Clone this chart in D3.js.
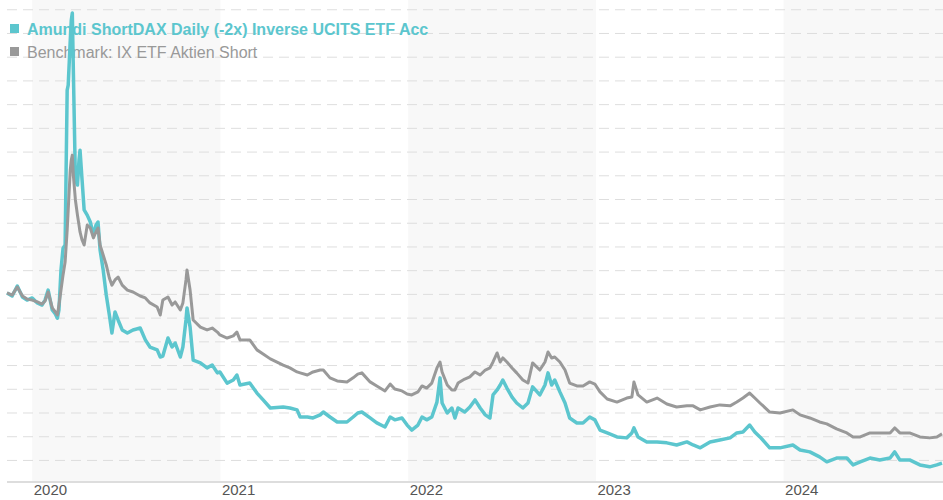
<!DOCTYPE html>
<html>
<head>
<meta charset="utf-8">
<script src="https://cdn.jsdelivr.net/npm/d3@7"></script>
<style>
  body { margin: 0; background: #fff; }
  svg { display: block; font-family: "Liberation Sans", Arial, sans-serif; }
</style>
</head>
<body>
<svg id="chart"></svg>
<script>
// dates of the sampled points
var dates = [
  "2019-11-13","2019-11-23","2019-12-03","2019-12-13","2019-12-22","2020-01-01","2020-01-11","2020-01-20","2020-01-26","2020-02-01",
  "2020-02-09","2020-02-15","2020-02-19","2020-02-22","2020-02-26","2020-03-01","2020-03-05","2020-03-09","2020-03-11","2020-03-15",
  "2020-03-17","2020-03-19","2020-03-21","2020-03-25","2020-03-29","2020-04-01","2020-04-03","2020-04-07","2020-04-11","2020-04-17",
  "2020-04-23","2020-04-29","2020-05-04","2020-05-08","2020-05-12","2020-05-18","2020-05-24","2020-05-30","2020-06-04","2020-06-10",
  "2020-06-16","2020-06-24","2020-07-04","2020-07-15","2020-07-29","2020-08-08","2020-08-17","2020-08-31","2020-09-06","2020-09-11",
  "2020-09-21","2020-09-29","2020-10-05","2020-10-15","2020-10-20","2020-10-26","2020-10-28","2020-11-03","2020-11-09","2020-11-23",
  "2020-12-06","2020-12-16","2020-12-26","2020-12-31","2021-01-14","2021-01-26","2021-02-02","2021-02-08","2021-02-27","2021-03-13",
  "2021-03-25","2021-04-08","2021-05-03","2021-05-16","2021-05-30","2021-06-05","2021-06-19","2021-06-30","2021-07-14","2021-07-20",
  "2021-08-02","2021-08-16","2021-09-04","2021-09-16","2021-09-25","2021-10-03","2021-10-19","2021-11-01","2021-11-17","2021-11-27",
  "2021-12-06","2021-12-20","2021-12-30","2022-01-08","2022-01-20","2022-01-28","2022-02-06","2022-02-16","2022-02-26","2022-03-04",
  "2022-03-08","2022-03-18","2022-03-27","2022-04-02","2022-04-08","2022-04-21","2022-05-01","2022-05-11","2022-05-21","2022-05-31",
  "2022-06-09","2022-06-15","2022-06-23","2022-06-29","2022-07-04","2022-07-12","2022-07-22","2022-07-31","2022-08-12","2022-08-22",
  "2022-08-31","2022-09-14","2022-09-24","2022-09-30","2022-10-07","2022-10-13","2022-10-23","2022-11-02","2022-11-11","2022-11-25",
  "2022-12-07","2022-12-20","2022-12-30","2023-01-09","2023-01-23","2023-02-11","2023-03-02","2023-03-12","2023-03-16","2023-03-24",
  "2023-04-10","2023-04-30","2023-05-19","2023-06-07","2023-06-27","2023-07-09","2023-07-23","2023-08-11","2023-08-30","2023-09-19",
  "2023-10-02","2023-10-14","2023-10-27","2023-11-06","2023-11-16","2023-12-05","2023-12-25","2024-01-19","2024-02-02","2024-02-21",
  "2024-03-11","2024-03-25","2024-04-13","2024-05-03","2024-05-15","2024-05-29","2024-06-17","2024-07-06","2024-07-26","2024-08-04",
  "2024-08-14","2024-09-02","2024-09-22","2024-10-11","2024-10-25","2024-11-04"
];

// Amundi ShortDAX Daily (-2x) Inverse UCITS ETF Acc (indexed)
var fundValues = [
  100.4, 99.1, 103.3, 98.7, 97.4, 98.3, 96.2, 95.3, 97.4, 101.6,
  93.2, 91.5, 89.8, 93.2, 110.1, 119.3, 120.6, 185.9, 188.0, 207.0,
  215.4, 218.4, 194.3, 148.0, 145.9, 156.4, 160.6, 148.0, 135.4, 133.2,
  130.3, 124.8, 129.0, 130.3, 118.5, 110.1, 99.5, 91.1, 83.5, 92.4,
  89.0, 84.8, 83.5, 84.8, 85.6, 80.6, 77.6, 76.4, 73.4, 73.8,
  81.4, 77.6, 79.3, 73.4, 77.6, 89.0, 94.1, 86.0, 72.1, 70.9,
  68.8, 70.0, 66.7, 67.1, 62.4, 63.7, 65.8, 61.6, 62.4, 58.2,
  55.3, 51.9, 52.3, 51.9, 51.1, 48.1, 48.1, 47.7, 49.0, 50.2,
  48.1, 46.0, 46.0, 48.1, 49.8, 50.2, 47.7, 45.6, 43.9, 48.1,
  46.9, 47.7, 44.7, 42.6, 44.7, 48.1, 46.9, 48.1, 54.4, 64.6,
  54.0, 49.8, 51.9, 47.7, 51.9, 50.2, 52.3, 55.3, 51.9, 49.0,
  47.7, 57.4, 59.5, 61.6, 63.7, 60.3, 56.5, 54.0, 51.9, 54.0,
  60.8, 57.4, 61.6, 66.7, 61.6, 63.7, 58.7, 54.0, 47.7, 45.6,
  45.6, 48.1, 46.9, 42.6, 41.4, 39.7, 39.3, 41.4, 43.5, 39.7,
  37.6, 37.6, 37.2, 36.3, 37.6, 36.3, 35.1, 37.6, 38.4, 39.3,
  41.4, 41.8, 44.7, 41.8, 39.7, 35.1, 35.1, 36.3, 34.2, 33.4,
  31.3, 29.2, 30.8, 30.8, 27.9, 29.2, 30.8, 30.0, 30.8, 33.4,
  30.0, 30.0, 27.9, 27.1, 27.9, 28.7
];

// Benchmark: IX ETF Aktien Short (indexed)
var benchmarkValues = [
  100.4, 99.5, 102.9, 99.1, 97.8, 97.4, 96.6, 95.7, 97.0, 100.8,
  94.1, 92.4, 91.1, 95.3, 101.6, 108.0, 113.4, 126.9, 135.4, 152.2,
  156.4, 158.5, 150.1, 139.6, 133.2, 129.0, 126.1, 122.7, 120.6, 129.0,
  127.8, 123.6, 126.1, 127.8, 120.6, 116.4, 112.2, 106.7, 103.7, 105.9,
  107.1, 103.7, 101.6, 100.8, 99.1, 98.3, 96.2, 94.5, 91.1, 97.4,
  98.7, 95.3, 96.6, 93.2, 96.2, 105.9, 110.1, 101.6, 89.0, 86.0,
  84.8, 85.6, 83.9, 82.7, 81.4, 82.3, 83.9, 80.6, 80.6, 76.4,
  74.7, 72.6, 70.0, 68.8, 67.1, 66.7, 65.8, 67.1, 67.9, 67.9,
  64.6, 63.3, 62.9, 64.6, 66.2, 66.7, 62.9, 61.2, 59.1, 62.0,
  59.9, 59.1, 57.8, 57.4, 58.7, 61.2, 60.3, 62.4, 68.8, 71.3,
  67.1, 61.6, 59.5, 59.5, 62.4, 64.1, 65.0, 67.1, 65.8, 67.9,
  68.8, 71.3, 75.1, 71.3, 73.0, 71.3, 68.8, 66.7, 63.7, 62.4,
  70.9, 67.9, 71.3, 75.5, 73.0, 73.4, 71.3, 67.9, 62.4, 61.2,
  61.2, 62.9, 62.0, 58.7, 55.7, 54.4, 56.1, 56.5, 62.9, 57.4,
  54.4, 56.1, 53.6, 52.3, 52.8, 52.8, 51.1, 52.3, 53.2, 52.8,
  54.4, 56.1, 58.2, 56.1, 54.0, 50.2, 49.8, 51.1, 49.0, 47.7,
  46.0, 45.2, 43.1, 41.4, 39.7, 39.7, 41.4, 41.4, 41.4, 43.5,
  41.4, 41.4, 39.7, 39.3, 39.7, 41.0
];

var gridValues = d3.range(30, 221, 10);
var seriesNames = ["Amundi ShortDAX Daily (-2x) Inverse UCITS ETF Acc", "Benchmark: IX ETF Aktien Short"];
var seriesColors = ["#5cc6ce", "#999999"];

var width = 943, height = 500;
var left = 7, right = 942, axisY = 482;

var svg = d3.select("#chart").attr("width", width).attr("height", height);

var parse = d3.timeParse("%Y-%m-%d");
var fund = dates.map(function (d, i) { return {date: parse(d), value: fundValues[i]}; });
var bench = dates.map(function (d, i) { return {date: parse(d), value: benchmarkValues[i]}; });

var x = d3.scaleTime()
    .domain([parse("2019-11-13"), parse("2024-11-04")])
    .range([left, right]);

var y = d3.scaleLinear()
    .domain([20.7, 223.9])
    .range([axisY, 0]);

// shaded alternate years
var years = d3.timeYear.range(parse("2020-01-01"), parse("2025-01-01"));
svg.append("g").selectAll("rect")
    .data(years.filter(function (d, i) { return i % 2 === 0; }))
    .enter().append("rect")
    .attr("x", function (d) { return x(d); })
    .attr("y", 0)
    .attr("width", function (d) { return Math.min(x(d3.timeYear.offset(d, 1)), width) - x(d); })
    .attr("height", axisY)
    .attr("fill", "#f8f8f8");

// dashed grid
var gy = svg.append("g")
    .attr("transform", "translate(" + left + ",0)")
    .call(d3.axisRight(y).tickValues(gridValues).tickSize(width - left).tickFormat(""));
gy.select(".domain").remove();
gy.selectAll("line")
    .attr("stroke", "#dedede")
    .attr("stroke-dasharray", "10,6");

// x axis
var gx = svg.append("g")
    .attr("transform", "translate(0," + axisY + ")")
    .call(d3.axisBottom(x).tickValues(years).tickSize(0).tickFormat(d3.timeFormat("%Y")));
gx.select(".domain").remove();
svg.append("line")
    .attr("x1", left).attr("x2", width)
    .attr("y1", axisY).attr("y2", axisY)
    .attr("stroke", "#dddddd").attr("stroke-width", 2);
gx.selectAll("text")
    .attr("text-anchor", "start")
    .attr("x", 1)
    .attr("y", 2)
    .attr("dy", "0.71em")
    .attr("fill", "#555")
    .style("font-size", "15px")
    .style("font-family", "'Liberation Sans', Arial, sans-serif");

// legend
var legend = svg.append("g");
seriesNames.forEach(function (name, i) {
    var g = legend.append("g").attr("transform", "translate(10," + (24 + i * 23) + ")");
    g.append("rect").attr("width", 9).attr("height", 9).attr("fill", seriesColors[i]);
    g.append("text")
        .attr("x", 17).attr("y", 10.5)
        .attr("fill", seriesColors[i])
        .style("font-size", "16px")
        .style("font-weight", i === 0 ? "bold" : "normal")
        .text(name);
});

// lines
var line = d3.line()
    .x(function (d) { return x(d.date); })
    .y(function (d) { return y(d.value); });

svg.append("path")
    .datum(fund)
    .attr("d", line)
    .attr("fill", "none")
    .attr("stroke", seriesColors[0])
    .attr("stroke-width", 3.5)
    .attr("stroke-linejoin", "round");

svg.append("path")
    .datum(bench)
    .attr("d", line)
    .attr("fill", "none")
    .attr("stroke", seriesColors[1])
    .attr("stroke-width", 3)
    .attr("stroke-linejoin", "round");
</script>
</body>
</html>
